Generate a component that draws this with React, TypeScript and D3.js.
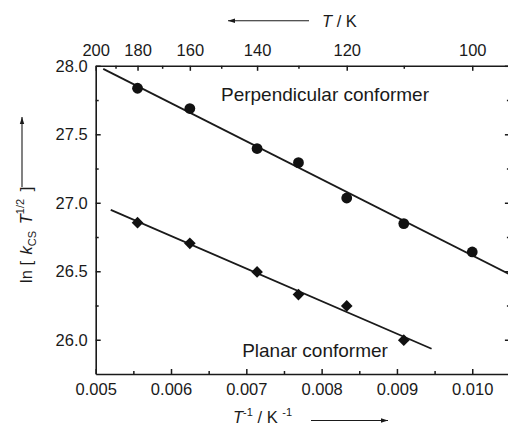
import React, { useEffect, useRef } from 'react';
import * as d3 from 'd3';

// measured points, x is 1/T
const perpTemps = [180, 160, 140, 130, 120, 110, 100];
const perpValues = [27.836, 27.688, 27.396, 27.293, 27.035, 26.848, 26.641];
const planarTemps = [180, 160, 140, 130, 120, 110];
const planarValues = [26.855, 26.704, 26.495, 26.33, 26.247, 25.997];

// x extent over which each fitted line is drawn
const perpFitRange = [0.0051, 0.0105];
const planarFitRange = [0.0052, 0.00946];

const bottomTicks = [0.005, 0.006, 0.007, 0.008, 0.009, 0.01];
const bottomMinor = [0.0055, 0.0065, 0.0075, 0.0085, 0.0095];
const leftTicks = [26.0, 26.5, 27.0, 27.5, 28.0];
const leftMinor = [26.25, 26.75, 27.25, 27.75];
const topTemps = [200, 180, 160, 140, 120, 100];
const topMinorTemps = [190, 170, 150, 130, 110];

const ink = '#1a1a1a';
const font = '"Liberation Sans", Arial, Helvetica, sans-serif';

function linearFit(xs: number[], ys: number[]) {
  const mx = d3.mean(xs)!;
  const my = d3.mean(ys)!;
  const sxy = d3.sum(xs, (v, i) => (v - mx) * (ys[i] - my));
  const sxx = d3.sum(xs, v => (v - mx) ** 2);
  const b = sxy / sxx;
  return { a: my - b * mx, b };
}

export default function App() {
  const svgRef = useRef<SVGSVGElement>(null);

  useEffect(() => {
    if (!svgRef.current) return;
    const W = 508, H = 425;
    const svg = d3.select(svgRef.current).attr('width', W).attr('height', H).html('');

    const x = d3.scaleLinear().domain([0.005, 0.0105]).range([95.7, 509.9]);
    const y = d3.scaleLinear().domain([25.75, 28.0]).range([374, 65.8]);
    const [x0, x1] = x.range();
    const [y0, y1] = y.range();

    const style = (g: d3.Selection<SVGGElement, unknown, null, undefined>, size = 16.5) => {
      g.attr('font-family', font).attr('font-size', size);
      g.select('.domain').attr('stroke', ink).attr('stroke-width', 1.6);
      g.selectAll('.tick line').attr('stroke', ink).attr('stroke-width', 1.5);
      g.selectAll('.tick text').attr('fill', ink);
    };
    const noLabel = () => '';

    // bottom
    const gb = svg.append('g').attr('transform', `translate(0,${y0})`)
      .call(d3.axisBottom(x).tickValues(bottomTicks).tickFormat(d3.format('.3f'))
        .tickSizeInner(-5).tickSizeOuter(0).tickPadding(9.6));
    style(gb);
    const gbm = svg.append('g').attr('transform', `translate(0,${y0})`)
      .call(d3.axisBottom(x).tickValues(bottomMinor).tickFormat(noLabel).tickSizeInner(-3).tickSizeOuter(0));
    style(gbm);
    gbm.select('.domain').remove();

    // top (temperature)
    const gt = svg.append('g').attr('transform', `translate(0,${y1})`)
      .call(d3.axisTop(x).tickValues(topTemps.map(t => 1 / t))
        .tickFormat((_, i) => String(topTemps[i])).tickSizeInner(-5).tickSizeOuter(0).tickPadding(10));
    style(gt);
    const gtm = svg.append('g').attr('transform', `translate(0,${y1})`)
      .call(d3.axisTop(x).tickValues(topMinorTemps.map(t => 1 / t)).tickFormat(noLabel).tickSizeInner(-3).tickSizeOuter(0));
    style(gtm);
    gtm.select('.domain').remove();

    // left
    const gl = svg.append('g').attr('transform', `translate(${x0},0)`)
      .call(d3.axisLeft(y).tickValues(leftTicks).tickFormat(d3.format('.1f'))
        .tickSizeInner(-5).tickSizeOuter(0).tickPadding(8));
    style(gl);
    const glm = svg.append('g').attr('transform', `translate(${x0},0)`)
      .call(d3.axisLeft(y).tickValues(leftMinor).tickFormat(noLabel).tickSizeInner(-3).tickSizeOuter(0));
    style(glm);
    glm.select('.domain').remove();

    // right
    const gr = svg.append('g').attr('transform', `translate(${x1},0)`)
      .call(d3.axisRight(y).tickValues(leftTicks).tickFormat(noLabel).tickSizeInner(-5).tickSizeOuter(0));
    style(gr);
    const grm = svg.append('g').attr('transform', `translate(${x1},0)`)
      .call(d3.axisRight(y).tickValues(leftMinor).tickFormat(noLabel).tickSizeInner(-3).tickSizeOuter(0));
    style(grm);
    grm.select('.domain').remove();

    // fits
    const line = d3.line<number[]>().x(d => x(d[0])).y(d => y(d[1]));
    const series = [
      { temps: perpTemps, values: perpValues, range: perpFitRange },
      { temps: planarTemps, values: planarValues, range: planarFitRange },
    ];
    series.forEach(s => {
      const f = linearFit(s.temps.map(t => 1 / t), s.values);
      svg.append('path')
        .datum(s.range.map(v => [v, f.a + f.b * v]))
        .attr('fill', 'none').attr('stroke', ink).attr('stroke-width', 1.8)
        .attr('d', line);
    });

    // markers
    svg.append('g').selectAll('circle').data(perpTemps).join('circle')
      .attr('cx', t => x(1 / t)).attr('cy', (_, i) => y(perpValues[i]))
      .attr('r', 5.4).attr('fill', '#111');
    const diamond = d3.symbol(d3.symbolSquare, 68)();
    svg.append('g').selectAll('path').data(planarTemps).join('path')
      .attr('d', diamond)
      .attr('transform', (t, i) => `translate(${x(1 / t)},${y(planarValues[i])}) rotate(45)`)
      .attr('fill', '#111');

    // series labels
    const label = (txt: string, cx: number, by: number) =>
      svg.append('text').attr('x', cx).attr('y', by).attr('text-anchor', 'middle')
        .attr('font-family', font).attr('font-size', 19).attr('fill', ink).text(txt);
    label('Perpendicular conformer', 325, 100.7);
    label('Planar conformer', 315, 357.3);

    // arrows
    const arrow = (xa: number, ya: number, xb: number, yb: number) => {
      svg.append('line').attr('x1', xa).attr('y1', ya).attr('x2', xb).attr('y2', yb)
        .attr('stroke', ink).attr('stroke-width', 1.1);
      const ang = Math.atan2(yb - ya, xb - xa);
      const L = 7, w = 2.2;
      const pts = [
        [xb, yb],
        [xb - L * Math.cos(ang) + w * Math.sin(ang), yb - L * Math.sin(ang) - w * Math.cos(ang)],
        [xb - L * Math.cos(ang) - w * Math.sin(ang), yb - L * Math.sin(ang) + w * Math.cos(ang)],
      ];
      svg.append('path').attr('d', d3.line()(pts as [number, number][]) + 'Z').attr('fill', ink);
    };

    // top title
    const tt = svg.append('text').attr('x', 322).attr('y', 27).attr('font-family', font)
      .attr('font-size', 16.5).attr('fill', ink).attr('xml:space', 'preserve');
    tt.append('tspan').attr('font-style', 'italic').text('T');
    tt.append('tspan').text(' / K');
    arrow(309, 20.8, 228, 20.8);

    // bottom title
    const bt = svg.append('text').attr('x', 233).attr('y', 423).attr('font-family', font)
      .attr('font-size', 16.5).attr('fill', ink).attr('xml:space', 'preserve');
    bt.append('tspan').attr('font-style', 'italic').text('T');
    bt.append('tspan').attr('font-size', 11).attr('dy', -7).text('-1');
    bt.append('tspan').attr('dy', 7).text(' / K ');
    bt.append('tspan').attr('font-size', 11).attr('dy', -7).text('-1');
    arrow(311, 420.5, 388, 420.5);

    // left title
    const lt = svg.append('text').attr('transform', 'translate(32,283) rotate(-90)')
      .attr('font-family', font).attr('font-size', 16.5).attr('fill', ink).attr('xml:space', 'preserve');
    lt.append('tspan').text('ln [ ');
    lt.append('tspan').attr('font-style', 'italic').attr('dx', 2).text('k');
    lt.append('tspan').attr('font-size', 11).attr('dy', 4).text('CS');
    lt.append('tspan').attr('dy', -4).text(' ');
    lt.append('tspan').attr('font-style', 'italic').attr('dx', 2).text('T');
    lt.append('tspan').attr('font-size', 11).attr('dy', -8).text('1/2');
    lt.append('tspan').attr('dy', 8).attr('dx', 3).text(' ]');
    arrow(22, 187, 22, 117);
  }, []);

  return (
    <div style={{ position: 'absolute', left: 0, top: 0, background: '#fff' }}>
      <svg ref={svgRef} style={{ display: 'block' }}></svg>
    </div>
  );
}
